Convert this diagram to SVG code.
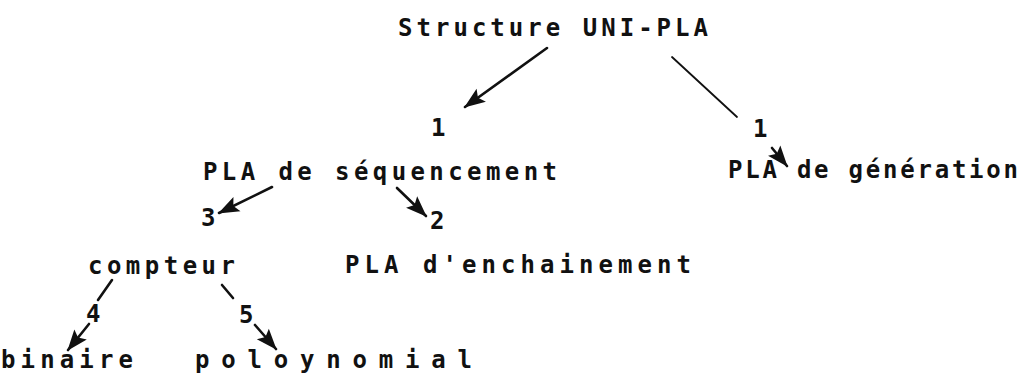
<svg xmlns="http://www.w3.org/2000/svg" width="1022" height="375" viewBox="0 0 1022 375">
<style>
  .t { font-family: "DejaVu Sans Mono", "Liberation Mono", monospace; font-size: 24px; font-weight: bold; fill: #111; }
  .c { stroke: #111; stroke-width: 2.6; fill: none; stroke-linecap: round; }
  .thin { stroke-width: 1.8; }
</style>
<defs>
  <marker id="ah" viewBox="-24 -10 26 20" refX="0" refY="0" markerWidth="26" markerHeight="20" markerUnits="userSpaceOnUse" orient="auto">
    <path d="M1,0 L-20,-8 L-16,0 L-20,8 Z" fill="#111"/>
  </marker>
</defs>
<rect width="1022" height="375" fill="#fff"/>
<g id="connectors">
  <line class="c" x1="547" y1="48" x2="465" y2="107" marker-end="url(#ah)"/>
  <line class="c thin" x1="672" y1="57" x2="737" y2="117"/>
  <line class="c" x1="772" y1="148" x2="787" y2="166" marker-end="url(#ah)"/>
  <line class="c" x1="272" y1="187" x2="219" y2="213" marker-end="url(#ah)"/>
  <line class="c" x1="397" y1="188" x2="426" y2="216" marker-end="url(#ah)"/>
  <line class="c" x1="112" y1="280" x2="98" y2="300"/>
  <line class="c" x1="89" y1="324" x2="68" y2="350" marker-end="url(#ah)"/>
  <line class="c" x1="255" y1="325" x2="276" y2="349" marker-end="url(#ah)"/>
  <line class="c" x1="222" y1="285" x2="233" y2="298"/>
</g>
<g id="n-structure"><text class="t" x="398" y="36" textLength="310">Structure UNI-PLA</text></g>
<g id="l-1a"><text class="t" x="431" y="136">1</text></g>
<g id="l-1b"><text class="t" x="753" y="137">1</text></g>
<g id="n-sequencement"><text class="t" x="203" y="180" textLength="354">PLA de séquencement</text></g>
<g id="n-generation"><text class="t" x="728" y="178" textLength="290">PLA de génération</text></g>
<g id="l-3"><text class="t" x="201" y="226">3</text></g>
<g id="l-2"><text class="t" x="430" y="229">2</text></g>
<g id="n-compteur"><text class="t" x="88" y="274" textLength="147">compteur</text></g>
<g id="n-enchainement"><text class="t" x="345" y="273" textLength="346">PLA d'enchainement</text></g>
<g id="l-4"><text class="t" x="86" y="322">4</text></g>
<g id="l-5"><text class="t" x="239" y="323">5</text></g>
<g id="n-binaire"><text class="t" x="1" y="368" textLength="132">binaire</text></g>
<g id="n-poloynomial"><text class="t" x="195" y="368" textLength="277">poloynomial</text></g>
</svg>
